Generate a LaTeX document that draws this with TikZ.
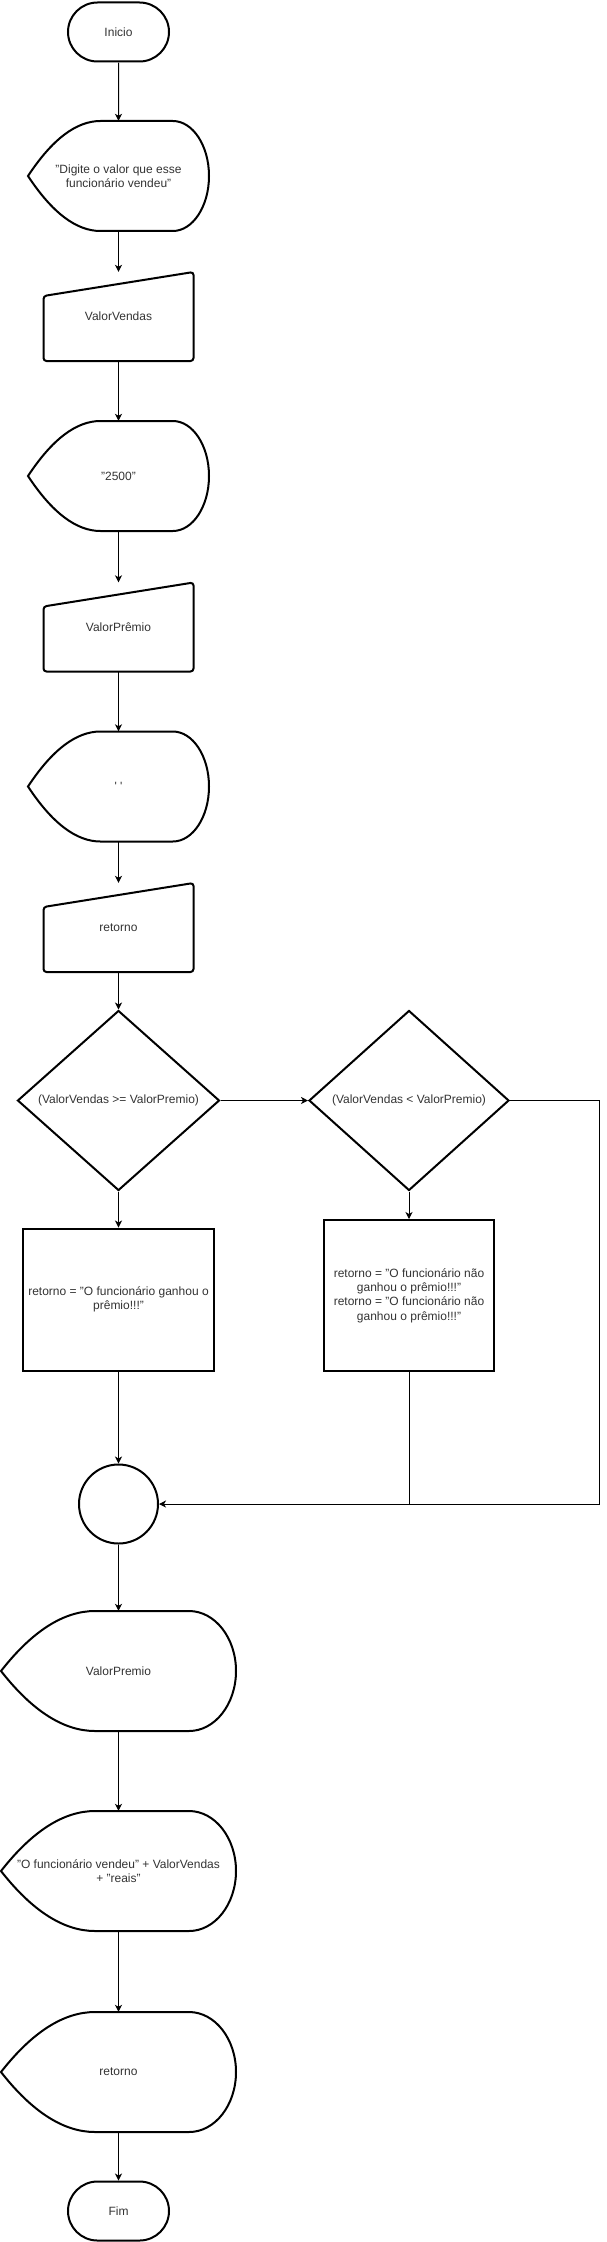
\documentclass[tikz,border=0pt]{standalone}
\usepackage{fontspec}
\setmainfont{Liberation Sans}
\usetikzlibrary{arrows.meta,shapes.geometric,shapes.misc}

\tikzset{
  lbl/.style={font=\fontsize{12}{14.4}\selectfont, text=black!80, align=center, inner sep=0pt},
  outline/.style={line width=2pt},
  term/.style={lbl, rounded rectangle, draw, outline, minimum width=101, minimum height=59},
  dec/.style={lbl, diamond, draw, outline, minimum height=180},
  proc/.style={lbl, rectangle, draw, outline},
  conn/.style={circle, draw, outline, minimum size=79},
  flow/.style={-{Stealth[length=7pt,width=7pt,inset=2pt]}, line width=1pt},
  line/.style={line width=1pt}
}

% display box: name, position, width, height, text
\newcommand{\dispbox}[5]{%
  \node[lbl, minimum width=#3, minimum height=#4] (#1) at (#2) {#5};
  \draw[outline, shift={(#1.center)}]
    ({-#3/2},0) .. controls ({-#3/2+0.1333*#3},{-#4/3}) and ({-#3/2+0.2667*#3},{-#4/2}) .. ({-0.1*#3},{-#4/2})
    -- ({0.3*#3},{-#4/2}) arc[start angle=-90, end angle=90, x radius={0.2*#3}, y radius={#4/2}]
    -- ({-0.1*#3},{#4/2}) .. controls ({-#3/2+0.2667*#3},{#4/2}) and ({-#3/2+0.1333*#3},{#4/3}) .. ({-#3/2},0)
    -- cycle;
}

% manual input: name, position, width, height, text
\newcommand{\manbox}[5]{%
  \node[lbl, minimum width=#3, minimum height=#4] (#1) at (#2) {#5};
  \draw[outline, rounded corners=3pt, shift={(#1.center)}]
    ({-#3/2},{#4/2}) -- ({-#3/2},{-#4/2+24}) -- ({#3/2},{-#4/2}) -- ({#3/2},{#4/2}) -- cycle;
}

\begin{document}
\begin{tikzpicture}[x=1pt, y=-1pt]
\useasboundingbox (0,0) rectangle (607,2242);

% input part
\node[term] (inicio) at (118.5,32) {Inicio};
\dispbox{msg}{118.5,176}{181}{110}{"Digite o valor que esse\\funcionário vendeu"}
\manbox{vendas}{118.5,316.5}{150}{89}{ValorVendas}
\dispbox{limite}{118.5,476}{181}{110}{"2500"}
\manbox{premio}{118.5,627}{150}{89}{ValorPrêmio}
\dispbox{vazio}{118.5,786.5}{181}{110}{\textquotesingle\ \textquotesingle}
\manbox{retorno}{118.5,927.5}{150}{89}{retorno}

% decisions
\node[dec, minimum width=202] (maior) at (118.5,1100.5) {(ValorVendas >= ValorPremio)};
\node[dec, minimum width=200] (menor) at (409,1100.5) {(ValorVendas < ValorPremio)};
\node[proc, minimum width=191, minimum height=142] (ganhou) at (118.5,1299.5)
  {retorno = "O funcionário ganhou o\\prêmio!!!"};
\node[proc, minimum width=170, minimum height=151] (perdeu) at (409,1295.5)
  {retorno = "O funcionário não\\ganhou o prêmio!!!"\\retorno = "O funcionário não\\ganhou o prêmio!!!"};
\node[conn] (junta) at (118.5,1504) {};

% output part
\dispbox{saida}{118.5,1671}{235}{120}{ValorPremio}
\dispbox{frase}{118.5,1871}{235}{120}{"O funcionário vendeu" + ValorVendas\\+ "reais"}
\dispbox{final}{118.5,2072}{235}{120}{retorno}
\node[term] (fim) at (118.5,2211) {Fim};

\coordinate (volta) at (599,1100.5);

% arrows
\draw[flow] (inicio) -- (msg);
\draw[flow] (msg) -- (vendas);
\draw[flow] (vendas) -- (limite);
\draw[flow] (limite) -- (premio);
\draw[flow] (premio) -- (vazio);
\draw[flow] (vazio) -- (retorno);
\draw[flow] (retorno) -- (maior);
\draw[flow] (maior) -- (menor);
\draw[flow] (maior) -- (ganhou);
\draw[flow] (menor) -- (perdeu);
\draw[flow] (ganhou) -- (junta);
\draw[flow] (menor.east) -- (volta) |- (junta.east);
\draw[line] (perdeu.south) -- (perdeu.south |- junta.east);
\draw[flow] (junta) -- (saida);
\draw[flow] (saida) -- (frase);
\draw[flow] (frase) -- (final);
\draw[flow] (final) -- (fim);
\end{tikzpicture}
\end{document}
